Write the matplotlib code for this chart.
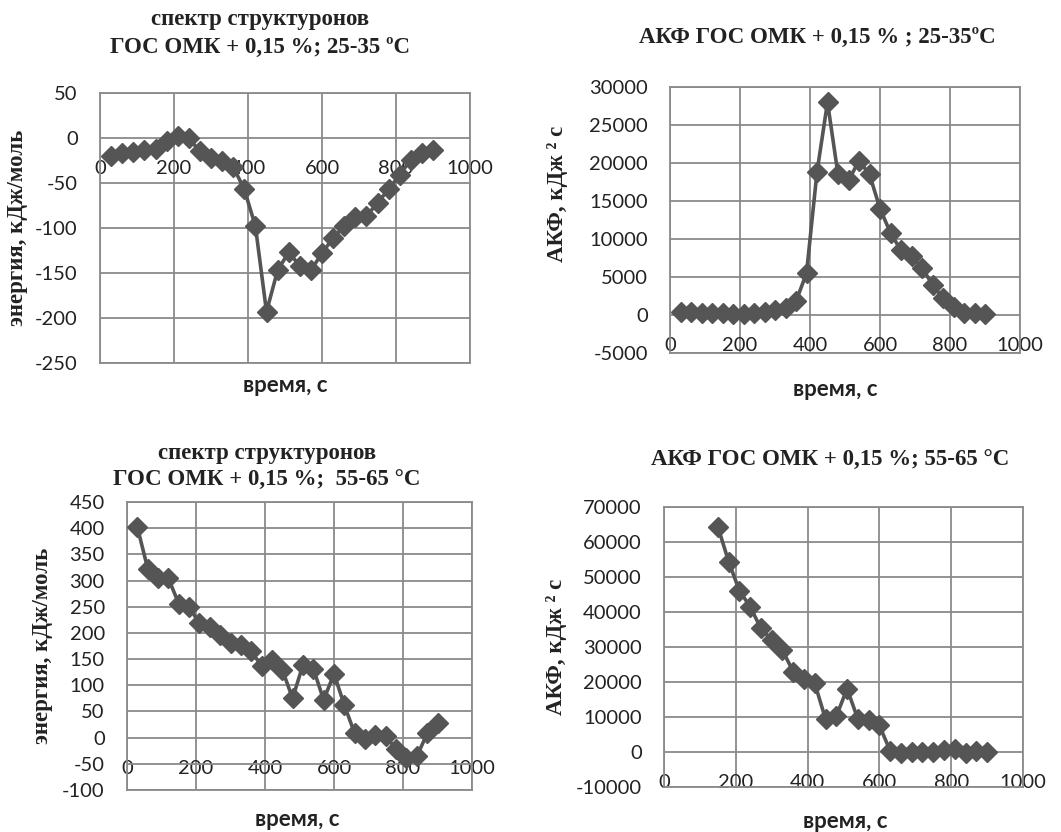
import matplotlib.pyplot as plt
import numpy as np

plt.rcParams["axes.unicode_minus"] = False

# time points, s
t = np.arange(30, 901, 30)
t_akf_55 = np.arange(150, 901, 30)

# energy spectrum, kJ/mol, 25-35 C
energy_25 = [-20, -17, -16, -13, -12, -3, 2, 0, -15, -22, -26, -32, -57, -98, -193,
             -147, -127, -142, -147, -128, -111, -98, -88, -87, -72, -57, -41, -24, -17, -13]
# autocorrelation, 25-35 C
akf_25 = [400, 350, 300, 300, 200, 100, 150, 200, 400, 600, 900, 1800, 5500, 18800, 28000,
          18500, 17700, 20300, 18500, 14000, 10800, 8500, 7700, 6200, 4000, 2200, 1000, 300, 300, 100]
# energy spectrum, 55-65 C
energy_55 = [402, 323, 304, 304, 256, 250, 218, 212, 196, 180, 176, 165, 137, 148, 130,
             75, 139, 132, 72, 122, 62, 8, -2, 5, 3, -22, -38, -36, 8, 27]
# autocorrelation, 55-65 C
akf_55 = [64400, 54400, 46100, 41500, 35300, 32000, 29100, 22900, 21000, 19600, 9400, 10200,
          18100, 9400, 9100, 7600, 300, -300, 0, 0, -100, 500, 900, -300, 200, 0]

W, H = 1061, 832
fig = plt.figure(figsize=(W / 100, H / 100), dpi=100)

GRID = "#8a8a8a"
LINE = "#555555"
SERIF = "Liberation Serif"
SANS = "Lato"


def box(l, t_, r, b):
    return [l / W, 1 - b / H, (r - l) / W, (b - t_) / H]


def panel(rect, x, y, ylim, ystep, ylabel, ylab_y, ylab_x):
    ax = fig.add_axes(rect)
    ax.plot(x, y, color=LINE, lw=2.6, marker="D", ms=10.5, mfc=LINE, mec=LINE, zorder=3)
    ax.set_xlim(0, 1000)
    ax.set_ylim(*ylim)
    ax.set_xticks(np.arange(0, 1001, 200))
    ax.set_yticks(np.arange(ylim[0], ylim[1] + 1, ystep))
    ax.grid(True, color=GRID, lw=1.3)
    ax.set_axisbelow(True)
    for s in ax.spines.values():
        s.set_color(GRID)
        s.set_linewidth(1.3)
    ax.spines["bottom"].set_position(("data", 0))
    ax.spines["bottom"].set_visible(False)
    ax.axhline(ylim[0], color=GRID, lw=1.3, clip_on=False)
    ax.tick_params(length=0, labelsize=14.5, colors="#222222")
    ax.tick_params(axis="x", pad=16)
    ax.tick_params(axis="y", pad=16)
    for lab in ax.get_xticklabels() + ax.get_yticklabels():
        lab.set_family(SANS)
    ax.set_ylabel(ylabel, family=SERIF, fontweight="bold", fontsize=16.5, color="#222222")
    ax.yaxis.set_label_coords(ylab_x, ylab_y)
    return ax


panel(box(100, 93, 470, 363), t, energy_25, (-250, 50), 50,
      "энергия, кДж/моль", 0.5, -0.195)
panel(box(670, 87, 1020, 353), t, akf_25, (-5000, 30000), 5000,
      "АКФ, кДж ² с", 0.6, -0.29)
panel(box(127, 502, 472, 790), t, energy_55, (-100, 450), 50,
      "энергия, кДж/моль", 0.5, -0.215)
panel(box(664, 507, 1023, 787), t_akf_55, akf_55, (-10000, 70000), 10000,
      "АКФ, кДж ² с", 0.5, -0.27)


def ftext(px, py, s, **kw):
    fig.text(px / W, 1 - py / H, s, ha="center", va="center", color="#222222", **kw)


tkw = dict(family=SERIF, fontweight="bold", fontsize=16.5)
ftext(260, 20, "спектр структуронов", **tkw)
ftext(260, 47, "ГОС ОМК + 0,15 %; 25-35 ºC", **tkw)
ftext(817, 37, "АКФ ГОС ОМК + 0,15 % ; 25-35ºC", **tkw)
ftext(267, 453, "спектр структуронов", **tkw)
ftext(267, 480, "ГОС ОМК + 0,15 %;  55-65 °C", **tkw)
ftext(830, 460, "АКФ ГОС ОМК + 0,15 %; 55-65 °C", **tkw)

xkw = dict(family=SANS, fontweight="bold", fontsize=16)
ftext(285, 385, "время, с", **xkw)
ftext(835, 390, "время, с", **xkw)
ftext(297, 820, "время, с", **xkw)
ftext(845, 822, "время, с", **xkw)

fig.savefig("out.png", dpi=100)
